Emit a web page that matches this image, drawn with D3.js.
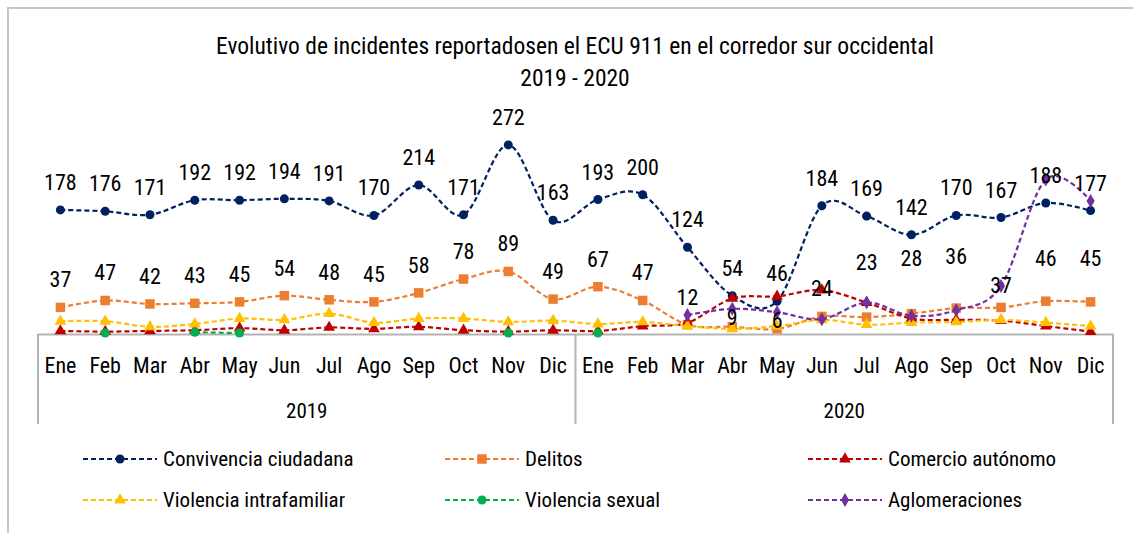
<!DOCTYPE html>
<html>
<head>
<meta charset="utf-8">
<script src="https://cdn.jsdelivr.net/npm/d3@7"></script>
<style>
  body { margin: 0; background: #fff; }
  svg text { font-family: "Roboto Condensed", "Liberation Sans Narrow", "DejaVu Sans Condensed", "Arial Narrow", sans-serif; fill: #000; }
</style>
</head>
<body>
<div id="chart"></div>
<script>
// data
var months = ["Ene", "Feb", "Mar", "Abr", "May", "Jun", "Jul", "Ago", "Sep", "Oct", "Nov", "Dic"];
var years = ["2019", "2020"];

var convivencia = [178, 176, 171, 192, 192, 194, 191, 170, 214, 171, 272, 163,
                   193, 200, 124, 54, 46, 184, 169, 142, 170, 167, 188, 177];
var delitos = [37, 47, 42, 43, 45, 54, 48, 45, 58, 78, 89, 49,
               67, 47, 12, 9, 6, 24, 23, 28, 36, 37, 46, 45];
var comercio = [3, 2, 3, 4, 7, 4, 8, 6, 9, 4, 2, 4,
                3, 10, 15, 50, 53, 62, 44, 21, 19, 18, 10, 2];
var intrafamiliar = [17, 17, 9, 13, 21, 19, 28, 15, 21, 21, 16, 18,
                     13, 16, 10, 6, 10, 19, 12, 15, 16, 19, 15, 10];
var sexual = [null, 0, null, 1, 0, null, null, null, null, null, 0, null,
              0, null, null, null, null, null, null, null, null, null, null, null];
var aglomeraciones = [null, null, null, null, null, null, null, null, null, null, null, null,
                      null, null, 26, 35, 30, 20, 44, 25, 33, 68, 222, 191];

// hand-moved label positions in the original (extra px, negative = up)
var delitosLabelShift = [0, 0, 0, 0, 0, 0, 0, 0, 0, 0, 0, 0,
                         0, 0, 0, 18, 19, 0, -27, -28, -24, 6, -15, -16];

var series = [
    { name: "Convivencia ciudadana", values: convivencia, color: "#002060", shape: "circle", labels: true },
    { name: "Delitos", values: delitos, color: "#ED7D31", shape: "square", labels: true, shift: delitosLabelShift },
    { name: "Comercio autónomo", values: comercio, color: "#C00000", shape: "triangle", labels: false },
    { name: "Violencia intrafamiliar", values: intrafamiliar, color: "#FFC000", shape: "triangle", labels: false },
    { name: "Violencia sexual", values: sexual, color: "#00B050", shape: "circle", labels: false },
    { name: "Aglomeraciones", values: aglomeraciones, color: "#7030A0", shape: "diamond", labels: false }
];

var width = 1133;
var height = 533;
var left = 38, right = 1113, axisY = 334;

var keys = [];
years.forEach(function (yr) {
    months.forEach(function (m) { keys.push(yr + "|" + m); });
});

var svg = d3.select("#chart")
    .append("svg")
    .attr("width", width)
    .attr("height", height);

// outer chart border
svg.append("rect")
    .attr("x", 8).attr("y", 8)
    .attr("width", width + 20).attr("height", height + 20)
    .attr("fill", "none")
    .attr("stroke", "#c6c6c6")
    .attr("stroke-width", 2);

svg.append("text")
    .attr("x", 575).attr("y", 54)
    .attr("text-anchor", "middle")
    .style("font-size", "23.5px")
    .text("Evolutivo de incidentes reportadosen el ECU 911 en el corredor sur occidental");
svg.append("text")
    .attr("x", 575).attr("y", 86)
    .attr("text-anchor", "middle")
    .style("font-size", "23.5px")
    .text("2019 - 2020");

var x = d3.scaleBand()
    .domain(keys)
    .range([left, right]);

var y = d3.scaleLinear()
    .domain([0, 300])
    .range([333, 333 - 0.6915 * 300]);

// category axis (months)
var xAxis = d3.axisBottom(x)
    .tickSize(0)
    .tickPadding(23)
    .tickFormat(function (k) { return k.split("|")[1]; });

var gx = svg.append("g")
    .attr("transform", "translate(0," + axisY + ")")
    .call(xAxis);
gx.select(".domain").attr("stroke", "#b3b3b3").attr("stroke-width", 2);
gx.selectAll("text")
    .style("font-size", "22px")
    .style("font-family", null);

// year group separators and labels
var yearBounds = [left];
years.forEach(function (yr) {
    yearBounds.push(x(yr + "|Dic") + x.bandwidth());
});
svg.selectAll(".sep")
    .data(yearBounds)
    .enter()
    .append("line")
    .attr("x1", function (d) { return d; })
    .attr("x2", function (d) { return d; })
    .attr("y1", axisY)
    .attr("y2", 424)
    .attr("stroke", "#b3b3b3")
    .attr("stroke-width", 2);

svg.selectAll(".year")
    .data(years)
    .enter()
    .append("text")
    .attr("x", function (yr) { return (x(yr + "|Ene") + x(yr + "|Dic") + x.bandwidth()) / 2; })
    .attr("y", 418)
    .attr("text-anchor", "middle")
    .style("font-size", "21px")
    .text(function (d) { return d; });

var line = d3.line()
    .defined(function (d) { return d.v !== null; })
    .x(function (d) { return x(d.k) + x.bandwidth() / 2; })
    .y(function (d) { return y(d.v); })
    .curve(d3.curveCardinal.tension(0));

function symbolFor(shape) {
    if (shape === "circle") return d3.symbol(d3.symbolCircle, 64);
    if (shape === "square") return d3.symbol(d3.symbolSquare, 90);
    if (shape === "triangle") return d3.symbol(d3.symbolTriangle, 60);
    return d3.symbol(d3.symbolDiamond, 56);
}

series.forEach(function (s) {
    var pts = s.values.map(function (v, i) { return { k: keys[i], v: v }; });
    var g = svg.append("g");
    g.append("path")
        .attr("d", line(pts))
        .attr("fill", "none")
        .attr("stroke", s.color)
        .attr("stroke-width", 2.2)
        .attr("stroke-dasharray", "5,3");
    g.selectAll("path.mk")
        .data(pts.filter(function (d) { return d.v !== null; }))
        .enter()
        .append("path")
        .attr("class", "mk")
        .attr("transform", function (d) {
            return "translate(" + (x(d.k) + x.bandwidth() / 2) + "," + y(d.v) + ")";
        })
        .attr("d", symbolFor(s.shape))
        .attr("fill", s.color);
});

// data labels
series.filter(function (s) { return s.labels; }).forEach(function (s) {
    svg.append("g").selectAll("text")
        .data(s.values.map(function (v, i) { return { k: keys[i], v: v, dy: s.shift ? s.shift[i] : 0 }; }))
        .enter()
        .append("text")
        .attr("x", function (d) { return x(d.k) + x.bandwidth() / 2; })
        .attr("y", function (d) { return y(d.v) - 20 + d.dy; })
        .attr("text-anchor", "middle")
        .style("font-size", "22px")
        .text(function (d) { return d.v; });
});

// legend
var legX = [83, 445, 808];
var legY = [459, 500];
series.forEach(function (s, i) {
    var lx = legX[i % 3], ly = legY[Math.floor(i / 3)];
    var g = svg.append("g").attr("transform", "translate(" + lx + "," + ly + ")");
    g.append("line")
        .attr("x1", 0).attr("x2", 74)
        .attr("y1", 0).attr("y2", 0)
        .attr("stroke", s.color)
        .attr("stroke-width", 2)
        .attr("stroke-dasharray", "5,3");
    g.append("path")
        .attr("transform", "translate(37,0)")
        .attr("d", symbolFor(s.shape))
        .attr("fill", s.color);
    g.append("text")
        .attr("x", 80).attr("y", 7)
        .style("font-size", "21px")
        .text(s.name);
});
</script>
</body>
</html>
